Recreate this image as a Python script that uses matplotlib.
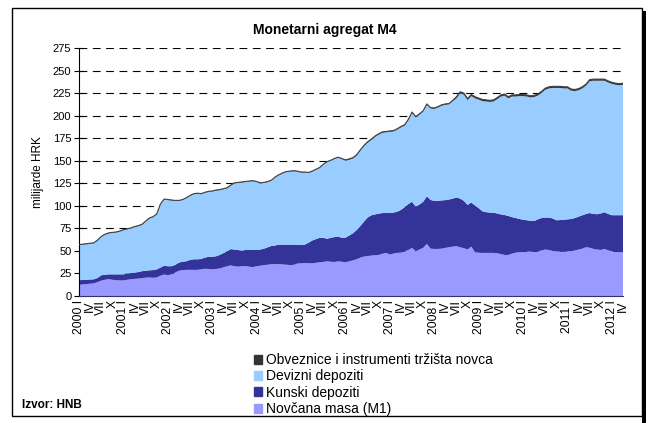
import matplotlib
matplotlib.use("Agg")
import matplotlib.pyplot as plt
from matplotlib.patches import Rectangle
import numpy as np

plt.rcParams['font.family'] = ['Liberation Sans', 'DejaVu Sans']

# Monthly data, I.2000 - IV.2012 (milijarde HRK)
novcana_masa = [
    12.3, 12.8, 13.2, 13.6, 14.0, 15.5, 17.0, 18.0, 18.7, 18.0, 17.5, 17.3,
    17.2, 18.0, 18.5, 19.0, 19.3, 19.8, 20.3, 20.5, 20.2, 20.5, 22.5, 23.9,
    23.0, 24.0, 26.0, 28.0, 28.7, 29.0, 29.0, 29.0, 29.0, 29.5, 30.2, 30.0,
    29.5, 30.0, 30.5, 31.7, 33.0, 34.0, 33.0, 32.5, 33.0, 33.2, 32.5, 32.0,
    33.0, 33.6, 34.2, 34.7, 35.2, 35.4, 35.4, 35.0, 34.7, 34.3, 34.5, 36.0,
    36.2, 36.6, 36.4, 36.2, 36.8, 37.3, 37.8, 38.4, 38.0, 37.7, 38.4, 38.0,
    37.3, 38.5, 39.5, 40.7, 42.5, 43.7, 44.3, 44.8, 45.2, 45.5, 46.8, 47.8,
    46.0, 47.0, 47.8, 48.1, 49.5, 51.0, 53.4, 49.6, 51.5, 53.4, 57.8, 52.5,
    52.2, 52.2, 52.5, 53.4, 54.0, 54.8, 55.2, 54.0, 53.0, 51.5, 54.9, 48.5,
    48.0, 47.8, 47.8, 47.8, 47.8, 47.5, 46.5, 45.5, 45.5, 47.0, 48.1, 48.5,
    49.0, 49.3, 49.1, 48.9, 49.5, 50.5, 51.5, 51.0, 50.0, 49.3, 49.4, 49.5,
    49.6, 49.6, 50.5, 51.5, 52.5, 54.1, 53.5, 52.2, 51.5, 51.1, 52.2, 50.5,
    49.6, 49.0, 48.5, 48.5,
]
kunski_depoziti = [
    5.2, 5.0, 4.8, 4.7, 4.5, 4.5, 6.0, 5.5, 5.3, 6.0, 6.5, 6.7,
    6.8, 7.0, 7.0, 7.0, 7.2, 7.7, 7.7, 8.0, 8.5, 9.0, 9.0, 9.6,
    10.0, 9.0, 8.5, 9.0, 9.3, 9.5, 11.0, 11.7, 11.7, 11.5, 12.3, 13.5,
    14.0, 14.0, 15.0, 15.8, 16.5, 18.0, 18.5, 18.5, 17.4, 17.8, 19.0, 19.0,
    18.0, 17.9, 18.3, 19.3, 20.3, 20.6, 21.6, 22.0, 22.3, 22.7, 22.5, 20.5,
    20.3, 20.4, 22.6, 25.3, 26.2, 27.2, 26.7, 25.1, 26.5, 27.6, 27.6, 26.5,
    27.3, 28.5, 30.0, 32.3, 35.0, 38.8, 42.7, 44.7, 45.3, 45.9, 45.2, 44.2,
    46.0, 45.5, 45.7, 47.4, 49.0, 51.0, 51.1, 49.4, 50.0, 51.1, 52.7, 54.0,
    53.3, 53.3, 53.5, 52.9, 53.0, 53.2, 54.1, 54.0, 52.5, 49.5, 48.8, 52.0,
    49.5, 46.2, 45.2, 44.7, 44.5, 44.0, 44.0, 44.3, 43.3, 40.5, 38.4, 37.0,
    35.5, 34.7, 34.4, 34.3, 35.5, 36.0, 35.5, 36.0, 36.0, 34.7, 34.8, 35.0,
    35.4, 35.8, 36.0, 36.5, 37.0, 36.9, 38.5, 38.8, 39.2, 40.4, 40.7, 40.5,
    40.0, 40.6, 41.1, 41.1,
]
devizni_depoziti = [
    38.9, 39.1, 39.4, 39.6, 39.9, 41.4, 42.4, 44.4, 45.4, 45.9, 46.4, 47.4,
    48.9, 48.9, 49.4, 50.4, 50.9, 51.4, 54.4, 57.4, 58.7, 60.9, 69.9, 73.4,
    73.4, 72.9, 70.9, 68.4, 68.4, 69.9, 70.9, 72.2, 72.7, 71.9, 71.9, 71.9,
    72.4, 72.9, 71.9, 70.9, 69.9, 70.4, 73.4, 74.4, 75.5, 75.4, 75.4, 76.4,
    75.4, 73.4, 72.9, 72.4, 72.4, 75.4, 76.9, 78.9, 80.4, 80.9, 81.4, 81.4,
    80.4, 79.9, 77.4, 76.4, 76.9, 77.4, 80.9, 84.9, 85.4, 86.6, 87.4, 87.4,
    85.4, 84.0, 83.0, 82.5, 83.5, 83.5, 83.0, 83.5, 86.0, 87.6, 89.0, 89.5,
    90.0, 90.0, 91.0, 91.5, 90.5, 93.0, 98.5, 99.0, 99.5, 100.0, 101.5, 101.5,
    102.0, 103.5, 105.0, 105.7, 105.5, 108.0, 109.9, 116.7, 117.7, 116.2, 118.0, 118.7,
    120.2, 122.2, 122.7, 122.7, 123.4, 126.7, 130.7, 132.4, 130.4, 133.7, 134.7, 136.2,
    137.2, 137.2, 136.7, 137.5, 137.2, 138.7, 141.7, 143.2, 144.7, 146.7, 146.5, 145.7,
    145.2, 142.3, 140.7, 140.2, 140.7, 142.2, 146.2, 147.7, 148.0, 147.2, 145.8, 145.7,
    145.6, 144.6, 144.1, 144.6,
]
obveznice = [
    0.6, 0.6, 0.6, 0.6, 0.6, 0.6, 0.6, 0.6, 0.6, 0.6, 0.6, 0.6,
    0.6, 0.6, 0.6, 0.6, 0.6, 0.6, 0.6, 0.6, 0.6, 0.6, 0.6, 0.6,
    0.6, 0.6, 0.6, 0.6, 0.6, 0.6, 0.6, 0.6, 0.6, 0.6, 0.6, 0.6,
    0.6, 0.6, 0.6, 0.6, 0.6, 0.6, 0.6, 0.6, 0.6, 0.6, 0.6, 0.6,
    0.6, 0.6, 0.6, 0.6, 0.6, 0.6, 0.6, 0.6, 0.6, 0.6, 0.6, 0.6,
    0.6, 0.6, 0.6, 0.6, 0.6, 0.6, 0.6, 0.6, 0.6, 0.6, 0.6, 0.6,
    1.0, 1.0, 1.0, 1.0, 1.0, 1.0, 1.0, 1.0, 1.0, 1.0, 1.0, 1.0,
    1.0, 1.0, 1.0, 1.0, 1.0, 1.0, 1.0, 1.0, 1.0, 1.0, 1.0, 1.0,
    1.0, 1.0, 1.0, 1.0, 1.0, 1.0, 1.8, 1.8, 1.8, 1.8, 1.8, 1.8,
    1.8, 1.8, 1.8, 1.8, 1.8, 1.8, 1.8, 1.8, 1.8, 1.8, 1.8, 1.8,
    1.8, 1.8, 1.8, 1.8, 1.8, 1.8, 1.8, 1.8, 1.8, 1.8, 1.8, 1.8,
    1.8, 1.8, 1.8, 1.8, 1.8, 1.8, 1.8, 1.8, 1.8, 1.8, 1.8, 1.8,
    1.8, 1.8, 1.8, 1.8,
]

series_labels = ["Novčana masa (M1)", "Kunski depoziti", "Devizni depoziti",
                 "Obveznice i instrumenti tržišta novca"]
series_colors = ["#9999FF", "#333399", "#99CCFF", "#333333"]

years = [str(y) for y in range(2000, 2013)]
month_labels = ["I", "IV", "VII", "X"]
y_ticks = [0, 25, 50, 75, 100, 125, 150, 175, 200, 225, 250, 275]

W, H = 651, 423
fig = plt.figure(figsize=(W / 100, H / 100), dpi=100)

x = np.arange(len(novcana_masa))
ax = fig.add_axes([79 / W, 1 - 296 / H, (623 - 79) / W, (296 - 48) / H])

ax.stackplot(x, novcana_masa, kunski_depoziti, devizni_depoziti, obveznice,
             colors=series_colors, linewidth=0, zorder=2)
total = np.array(novcana_masa) + np.array(kunski_depoziti) + np.array(devizni_depoziti) + np.array(obveznice)
ax.plot(x, total, color="#444444", lw=0.8, zorder=3)

ax.set_xlim(0, len(x) - 1)
ax.set_ylim(0, 275)
ax.set_yticks(y_ticks)
ax.set_yticklabels([str(v) for v in y_ticks], fontsize=8)
for v in y_ticks[1:]:
    ax.axhline(v, color="black", lw=0.8, ls=(0, (7, 5)), zorder=1)

# x ticks: marks every 4 months, labels every 3 months
ax.xaxis.remove_overlapping_locs = False
ax.set_xticks(np.arange(0, len(x), 4))
ax.set_xticklabels([])
lab_pos = np.arange(0, len(x), 3)
labels = []
for i, p in enumerate(lab_pos):
    mi = i % 4
    if mi == 0:
        labels.append(years[p // 12] + " " + month_labels[0])
    else:
        labels.append(month_labels[mi])
ax.set_xticks(lab_pos, minor=True)
ax.set_xticklabels(labels, minor=True, rotation=90, fontsize=8.7, va="top", ha="center")
ax.tick_params(axis="x", which="minor", length=0, pad=3)
ax.tick_params(axis="x", which="major", direction="in", length=4, width=0.8, color="#333333")
ax.tick_params(axis="y", direction="inout", length=7, width=0.8, pad=2)

for s in ["top", "right"]:
    ax.spines[s].set_visible(False)
ax.spines["left"].set_linewidth(0.8)
ax.spines["bottom"].set_linewidth(0.8)
ax.spines["bottom"].set_color("#333366")
ax.set_facecolor("none")

ax.set_ylabel("milijarde HRK", fontsize=8.5, labelpad=6)

fig.text(325 / W, 1 - 30 / H, "Monetarni agregat M4", ha="center", va="center",
         fontsize=10, fontweight="bold")

handles = [Rectangle((0, 0), 1, 1, color=c) for c in series_colors][::-1]
fig.legend(handles, series_labels[::-1], loc="upper left",
           bbox_to_anchor=(254 / W, 1 - 353 / H), frameon=False, fontsize=10,
           handlelength=0.6, handleheight=0.6, handletextpad=0.25,
           labelspacing=0.17, borderpad=0, borderaxespad=0)

fig.text(22 / W, 1 - 405 / H, "Izvor: HNB", ha="left", va="center",
         fontsize=8.5, fontweight="bold")

fig.patches.append(Rectangle((12 / W, 1 - 416 / H), (642 - 12) / W, (416 - 8) / H,
                             transform=fig.transFigure, fill=False, lw=1, ec="black"))
fig.patches.append(Rectangle((642 / W, 0), 4 / W, 1 - 11 / H,
                             transform=fig.transFigure, fill=True, color="black", lw=0))

fig.savefig("out.png", dpi=100)
